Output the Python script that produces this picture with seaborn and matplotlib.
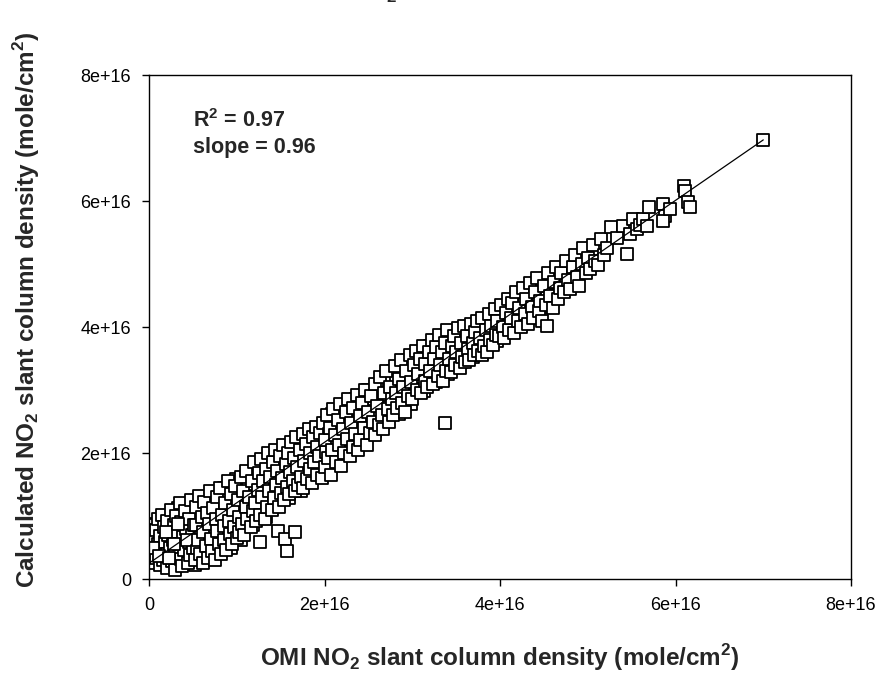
import matplotlib
matplotlib.use("Agg")
import matplotlib.pyplot as plt
import numpy as np
import pandas as pd
import seaborn as sns

SCALE = 1e16  # all values below are in units of 1e16 molecules/cm2

# (OMI, calculated) slant column pairs, grouped along the band
pts_origin = [
    (0.00, 0.30), (0.00, 0.45), (0.00, 0.58), (0.00, 0.72), (0.02, 0.38), (0.02, 0.85),
    (0.03, 0.52), (0.04, 0.26), (0.05, 0.65), (0.06, 0.42), (0.08, 0.78), (0.08, 0.33),
    (0.10, 0.55), (0.10, 0.95), (0.12, 0.22), (0.12, 0.68), (0.14, 0.44), (0.15, 1.02),
    (0.16, 0.30), (0.17, 0.82), (0.18, 0.58), (0.20, 0.18), (0.20, 0.40), (0.21, 0.92),
    (0.22, 0.70), (0.24, 0.50), (0.25, 1.10), (0.26, 0.28), (0.27, 0.62), (0.28, 0.85),
    (0.30, 0.15), (0.30, 0.42), (0.31, 1.00), (0.32, 0.74), (0.34, 0.55), (0.35, 1.20),
    (0.36, 0.32), (0.37, 0.90), (0.38, 0.20), (0.39, 0.66), (0.40, 0.46), (0.41, 1.08),
    (0.42, 0.80), (0.44, 0.25), (0.45, 0.58), (0.46, 0.95), (0.47, 0.38), (0.48, 1.25),
    (0.49, 0.70), (0.50, 0.50),
]
pts_low = [
    (0.52, 0.30), (0.53, 1.15), (0.54, 0.85), (0.56, 0.62), (0.57, 1.32), (0.58, 0.40),
    (0.60, 0.98), (0.61, 0.26), (0.62, 0.74), (0.63, 1.22), (0.65, 0.52), (0.66, 1.05),
    (0.67, 0.34), (0.68, 0.88), (0.70, 1.40), (0.71, 0.64), (0.72, 0.45), (0.73, 1.12),
    (0.75, 0.30), (0.76, 0.95), (0.77, 0.76), (0.78, 1.30), (0.80, 0.55), (0.81, 1.45),
    (0.82, 0.40), (0.83, 1.02), (0.85, 0.84), (0.86, 0.62), (0.87, 1.20), (0.88, 0.46),
    (0.90, 1.55), (0.91, 0.92), (0.92, 0.72), (0.93, 1.35), (0.95, 0.55), (0.96, 1.10),
    (0.97, 0.82), (0.98, 1.48), (1.00, 0.65), (1.01, 1.25), (1.02, 0.98), (1.03, 0.75),
    (1.05, 1.62), (1.06, 0.88), (1.07, 1.40), (1.08, 0.70), (1.10, 1.15), (1.11, 1.72),
    (1.12, 0.95), (1.14, 1.30),
]
pts_mid_low = [
    (1.16, 0.82), (1.17, 1.55), (1.18, 1.08), (1.20, 1.85), (1.21, 1.20), (1.22, 0.92),
    (1.24, 1.42), (1.25, 1.68), (1.26, 1.02), (1.28, 1.90), (1.29, 1.30), (1.30, 1.55),
    (1.32, 0.95), (1.33, 1.75), (1.34, 1.15), (1.36, 2.00), (1.37, 1.40), (1.38, 1.62),
    (1.40, 1.10), (1.41, 1.85), (1.42, 1.28), (1.44, 2.05), (1.45, 1.50), (1.46, 1.72),
    (1.48, 1.15), (1.49, 1.95), (1.50, 1.36), (1.52, 1.60), (1.53, 2.12), (1.54, 1.25),
    (1.56, 1.82), (1.57, 1.46), (1.58, 2.00), (1.60, 1.35), (1.61, 1.70), (1.62, 2.18),
    (1.64, 1.55), (1.65, 1.92), (1.66, 1.40), (1.68, 2.25), (1.69, 1.78), (1.70, 1.50),
    (1.72, 2.05), (1.73, 1.62), (1.75, 2.30), (1.76, 1.45), (1.77, 1.88), (1.79, 2.15),
    (1.80, 1.58), (1.82, 2.38), (1.83, 1.75), (1.84, 2.00), (1.86, 1.52), (1.87, 2.25),
    (1.88, 1.85), (1.90, 2.42), (1.91, 1.65), (1.92, 2.10), (1.94, 1.95), (1.95, 2.32),
    (1.97, 1.60), (1.98, 2.48),
]
pts_mid = [
    (2.00, 1.78), (2.01, 2.20), (2.03, 2.60), (2.04, 1.92), (2.06, 2.40), (2.07, 1.65),
    (2.09, 2.05), (2.10, 2.70), (2.12, 2.28), (2.13, 1.85), (2.15, 2.52), (2.16, 2.12),
    (2.18, 2.78), (2.19, 1.80), (2.21, 2.38), (2.22, 2.00), (2.24, 2.65), (2.26, 2.22),
    (2.27, 2.85), (2.29, 1.95), (2.30, 2.48), (2.32, 2.10), (2.33, 2.72), (2.35, 2.30),
    (2.37, 2.92), (2.38, 2.05), (2.40, 2.58), (2.41, 2.20), (2.43, 2.80), (2.45, 2.40),
    (2.46, 3.00), (2.48, 2.12), (2.50, 2.65), (2.52, 2.32), (2.53, 2.90), (2.55, 2.50),
    (2.57, 3.10), (2.58, 2.28), (2.60, 2.75), (2.62, 2.45), (2.63, 3.20), (2.65, 2.60),
    (2.67, 2.38), (2.68, 2.95), (2.70, 3.30), (2.72, 2.70), (2.73, 2.50), (2.75, 3.05),
    (2.77, 2.85), (2.78, 2.60), (2.80, 3.38), (2.82, 2.95), (2.83, 2.72), (2.85, 3.18),
    (2.87, 3.48), (2.88, 2.80), (2.90, 3.05), (2.92, 2.65), (2.93, 3.30), (2.95, 2.90),
    (2.97, 3.55), (2.98, 3.12),
]
pts_mid_high = [
    (3.00, 2.85), (3.02, 3.40), (3.04, 3.62), (3.05, 3.00), (3.07, 3.25), (3.09, 3.50),
    (3.10, 2.95), (3.12, 3.70), (3.14, 3.15), (3.15, 3.42), (3.17, 3.05), (3.19, 3.60),
    (3.20, 3.30), (3.22, 3.80), (3.24, 3.10), (3.25, 3.50), (3.27, 3.68), (3.29, 3.22),
    (3.30, 3.88), (3.32, 3.40), (3.34, 3.60), (3.35, 3.15), (3.37, 3.75), (3.39, 3.30),
    (3.40, 3.95), (3.42, 3.50), (3.44, 3.28), (3.45, 3.70), (3.47, 3.85), (3.49, 3.40),
    (3.50, 3.60), (3.52, 3.98), (3.54, 3.35), (3.55, 3.75), (3.57, 3.52), (3.59, 4.02),
    (3.60, 3.45), (3.62, 3.85), (3.64, 3.65), (3.65, 3.48), (3.67, 4.05), (3.69, 3.75),
    (3.70, 3.55), (3.72, 3.92), (3.74, 4.10), (3.75, 3.62), (3.77, 3.82), (3.79, 3.55),
    (3.80, 4.15), (3.82, 3.70), (3.84, 3.95), (3.85, 3.60), (3.87, 4.20), (3.89, 3.80),
    (3.90, 4.02), (3.92, 3.72), (3.94, 4.28), (3.95, 3.88), (3.97, 4.10), (3.99, 3.85),
]
pts_high = [
    (4.01, 4.35), (4.03, 4.00), (4.05, 3.82), (4.07, 4.22), (4.09, 4.45), (4.10, 3.95),
    (4.12, 4.15), (4.14, 4.38), (4.16, 3.90), (4.18, 4.55), (4.20, 4.10), (4.22, 4.30),
    (4.24, 4.00), (4.26, 4.62), (4.28, 4.20), (4.30, 4.45), (4.32, 4.05), (4.34, 4.70),
    (4.36, 4.32), (4.38, 4.15), (4.40, 4.55), (4.42, 4.78), (4.44, 4.25), (4.46, 4.42),
    (4.48, 4.10), (4.50, 4.65), (4.52, 4.35), (4.53, 4.02), (4.55, 4.85), (4.57, 4.50),
    (4.60, 4.30), (4.62, 4.72), (4.64, 4.95), (4.66, 4.45), (4.68, 4.62), (4.70, 4.85),
    (4.73, 4.55), (4.75, 5.05), (4.78, 4.75), (4.80, 4.60), (4.83, 4.95), (4.85, 5.15),
    (4.88, 4.80), (4.90, 4.65), (4.93, 5.00), (4.95, 5.25), (4.98, 4.85), (5.00, 5.10),
    (5.03, 4.92), (5.06, 5.30), (5.08, 5.05), (5.12, 4.98), (5.15, 5.40), (5.18, 5.15),
]
pts_top = [
    (5.22, 5.25), (5.27, 5.59), (5.33, 5.42), (5.40, 5.60), (5.45, 5.16), (5.48, 5.48),
    (5.52, 5.71), (5.56, 5.56), (5.60, 5.62), (5.63, 5.71), (5.67, 5.60), (5.70, 5.90),
    (5.86, 5.95), (5.88, 5.76), (5.86, 5.68), (5.94, 5.87), (6.10, 6.24), (6.11, 6.16),
    (6.14, 5.98), (6.17, 5.90), (7.00, 6.97),
]
# interior of the band, where squares are stacked most thickly
pts_core = [
    (0.05, 0.50), (0.11, 0.36), (0.19, 0.75), (0.23, 0.34), (0.29, 0.55), (0.33, 0.88),
    (0.43, 0.62), (0.51, 0.86), (0.55, 0.45), (0.59, 0.70), (0.64, 0.90), (0.69, 0.58),
    (0.74, 1.00), (0.79, 0.68), (0.84, 1.15), (0.89, 0.80), (0.94, 1.05), (0.99, 0.90),
    (1.04, 1.18), (1.09, 0.96), (1.13, 1.45), (1.19, 1.32), (1.23, 1.10), (1.27, 1.52),
    (1.31, 1.25), (1.35, 1.60), (1.39, 1.45), (1.43, 1.70), (1.47, 1.38), (1.51, 1.85),
    (1.55, 1.52), (1.59, 1.78), (1.63, 1.45), (1.67, 1.98), (1.71, 1.72), (1.74, 1.95),
    (1.78, 1.68), (1.81, 2.05), (1.85, 1.88), (1.89, 2.12), (1.93, 1.80), (1.96, 2.20),
    (2.02, 2.02), (2.05, 2.30), (2.08, 2.50), (2.11, 2.15), (2.14, 2.40), (2.17, 2.30),
    (2.20, 2.58), (2.23, 2.32), (2.25, 2.48), (2.28, 2.62), (2.31, 2.40), (2.34, 2.55),
    (2.36, 2.70), (2.39, 2.42), (2.42, 2.65), (2.44, 2.55), (2.47, 2.78), (2.49, 2.50),
    (2.51, 2.82), (2.54, 2.70), (2.56, 2.85), (2.59, 2.62), (2.61, 2.95), (2.64, 2.80),
    (2.66, 3.05), (2.69, 2.75), (2.71, 2.92), (2.74, 3.15), (2.76, 2.70), (2.79, 3.00),
    (2.81, 3.20), (2.84, 2.90), (2.86, 3.10), (2.89, 3.25), (2.91, 2.88), (2.94, 3.15),
    (2.96, 3.35), (2.99, 3.00), (3.03, 3.20), (3.06, 3.35), (3.11, 3.25), (3.16, 3.55),
    (3.21, 3.45), (3.26, 3.35), (3.31, 3.62), (3.36, 3.52), (3.41, 3.70), (3.46, 3.55),
    (3.51, 3.80), (3.56, 3.65), (3.61, 3.72), (3.66, 3.90), (3.71, 3.78), (3.76, 3.98),
    (3.81, 3.90), (3.86, 4.05), (3.91, 3.95), (3.96, 4.15), (4.04, 4.12), (4.11, 4.25),
    (4.19, 4.35), (4.27, 4.40), (4.35, 4.50), (4.43, 4.60), (4.51, 4.52), (4.58, 4.70),
    (4.67, 4.80),
]
# ragged upper and lower edges of the band
pts_edges = [
    (0.07, 0.88), (0.13, 0.28), (0.18, 0.98), (0.27, 0.20), (0.33, 1.12), (0.40, 0.30),
    (0.44, 1.15), (0.52, 0.22), (0.58, 1.25), (0.66, 0.38), (0.72, 1.35), (0.79, 0.45),
    (0.86, 1.45), (0.93, 0.50), (0.99, 1.58), (1.05, 0.62), (1.12, 1.62), (1.19, 0.85),
    (1.26, 1.80), (1.33, 0.98), (1.39, 1.92), (1.46, 1.20), (1.52, 1.98), (1.59, 1.28),
    (1.66, 2.15), (1.73, 1.40), (1.80, 2.28), (1.87, 1.62), (1.94, 2.40), (2.01, 1.70),
    (2.08, 2.62), (2.15, 1.88), (2.22, 2.75), (2.29, 2.05), (2.36, 2.85), (2.43, 2.18),
    (2.50, 3.00), (2.57, 2.35), (2.64, 3.15), (2.71, 2.58), (2.78, 3.30), (2.85, 2.62),
    (2.92, 3.42), (2.99, 2.78), (3.06, 3.55), (3.13, 2.98), (3.20, 3.70), (3.27, 3.12),
    (3.34, 3.82), (3.41, 3.25), (3.48, 3.92), (3.55, 3.45), (3.62, 3.98), (3.69, 3.52),
    (3.76, 4.05), (3.83, 3.65), (3.90, 4.18), (3.97, 3.78), (4.06, 4.30), (4.15, 4.02),
    (4.25, 4.50), (4.33, 4.20), (4.41, 4.68), (4.49, 4.32), (4.56, 4.62),
]
pts_outliers = [
    (1.26, 0.59), (1.47, 0.76), (1.55, 0.63), (1.57, 0.44), (1.66, 0.75), (3.37, 2.48),
]

# regression line shown on the chart
fit_slope = 0.96
fit_intercept = 0.25
fit_x_range = [0.0, 7.0]
r_squared = 0.97

ticks = [0, 2, 4, 6, 8]
tick_labels = ["0", "2e+16", "4e+16", "6e+16", "8e+16"]

sns.set_theme(style="ticks")
plt.rcParams["font.family"] = ["Liberation Sans", "DejaVu Sans"]
plt.rcParams["mathtext.fontset"] = "custom"
plt.rcParams["mathtext.rm"] = "Liberation Sans"
plt.rcParams["mathtext.bf"] = "Liberation Sans:bold"

all_pts = (pts_edges[:30] + pts_origin + pts_core[:42] + pts_low + pts_mid_low
           + pts_edges[30:] + pts_core[42:] + pts_mid + pts_mid_high + pts_high
           + pts_top + pts_outliers)
df = pd.DataFrame(all_pts, columns=["omi", "calc"]) * SCALE

fit_x = np.array(fit_x_range)
fit_df = pd.DataFrame({"x": fit_x * SCALE, "y": (fit_intercept + fit_slope * fit_x) * SCALE})

fig = plt.figure(figsize=(8.75, 6.8), dpi=100)
ax = fig.add_axes([0.1703, 0.1485, 0.8023, 0.7412])

sns.scatterplot(
    data=df, x="omi", y="calc", marker="s", s=66,
    color="white", edgecolor="black", linewidth=1.3, ax=ax, zorder=2,
)
sns.lineplot(data=fit_df, x="x", y="y", color="black", linewidth=0.9, ax=ax, zorder=3)

ax.set_xlim(0, 8 * SCALE)
ax.set_ylim(0, 8 * SCALE)
ax.set_xticks(np.array(ticks) * SCALE)
ax.set_xticklabels(tick_labels)
ax.set_yticks(np.array(ticks) * SCALE)
ax.set_yticklabels(tick_labels)
ax.tick_params(direction="out", length=5, width=1, labelsize=13, colors="black", pad=8)
for spine in ax.spines.values():
    spine.set_visible(True)
    spine.set_color("black")
    spine.set_linewidth(1.0)

ax.set_xlabel(r"OMI NO$_\mathbf{2}$ slant column density (mole/cm$^\mathbf{2}$)",
              fontsize=17.5, fontweight="bold")
ax.set_ylabel(r"Calculated NO$_\mathbf{2}$ slant column density (mole/cm$^\mathbf{2}$)",
              fontsize=17.5, fontweight="bold")
ax.xaxis.set_label_coords(0.5, -0.125)
ax.yaxis.set_label_coords(-0.153, 0.535)

ax.text(0.063, 0.91, r"R$^\mathbf{2}$ = %.2f" % r_squared, transform=ax.transAxes,
        fontsize=15.5, fontweight="bold", va="center")
ax.text(0.063, 0.857, "slope = %.2f" % fit_slope, transform=ax.transAxes,
        fontsize=15.5, fontweight="bold", va="center")

# title sits mostly above the canvas in the original; only its subscript peeks in
fig.text(0.40, 1.0 + 1 / 680, r"NO$_\mathbf{2}$", fontsize=17.5, fontweight="bold",
         va="baseline", ha="left")

fig.savefig("out.png", dpi=100)
